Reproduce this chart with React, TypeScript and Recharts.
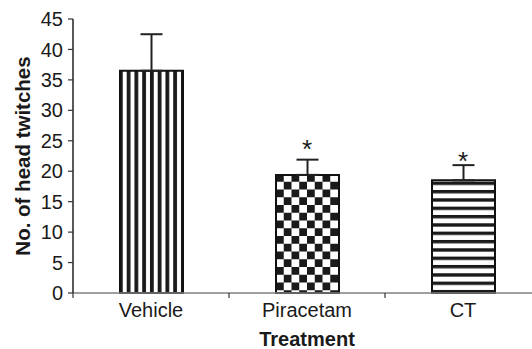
import React from "react";
import { BarChart, Bar, XAxis, YAxis, ErrorBar, ReferenceDot, Label } from "recharts";

const CATEGORIES = ["Vehicle", "Piracetam", "CT"];
const MEANS = [36.5, 19.4, 18.5];
const ERRORS = [6.0, 2.5, 2.5];
const STARS = ["", "*", "*"];
const STAR_Y = [0, 24.6, 22.6];
const Y_TICKS = [0, 5, 10, 15, 20, 25, 30, 35, 40, 45];
const PATTERNS = ["url(#vstripe)", "url(#checker)", "url(#hstripe)"];

const data = CATEGORIES.map((name, i) => ({
  name,
  value: MEANS[i],
  err: [0, ERRORS[i]],
  fill: PATTERNS[i],
}));

const FONT = "Arial, 'Liberation Sans', sans-serif";
const BAND = 468 / CATEGORIES.length;

const XTick = ({ x, y, payload, index }: any) => {
  const axisY = y - 10;
  return (
    <g>
      <line x1={x - BAND / 2} x2={x - BAND / 2} y1={axisY} y2={axisY + 5} stroke="#333" strokeWidth={1.2} />
      {index === CATEGORIES.length - 1 && (
        <line x1={x + BAND / 2} x2={x + BAND / 2} y1={axisY} y2={axisY + 5} stroke="#333" strokeWidth={1.2} />
      )}
      <text x={x} y={y} dy="0.71em" textAnchor="middle" fontSize={20} fontFamily={FONT} fill="#1a1a1a">
        {payload.value}
      </text>
    </g>
  );
};

export default function App() {
  return (
    <div style={{ position: "absolute", left: 0, top: 0, width: 532, height: 349, overflow: "hidden", background: "#fff" }}>
      <BarChart width={545} height={349} data={data} margin={{ top: 19, right: 4, left: 0, bottom: 0 }}>
        <defs>
          <pattern id="vstripe" patternUnits="userSpaceOnUse" x={2.7} y={0} width={7.75} height={10}>
            <rect x={0} y={0} width={7.75} height={10} fill="#fff" />
            <rect x={0} y={0} width={3.8} height={10} fill="#1a1a1a" />
          </pattern>
          <pattern id="checker" patternUnits="userSpaceOnUse" x={276} y={174} width={15.5} height={15.5}>
            <rect x={0} y={0} width={15.5} height={15.5} fill="#fff" />
            <rect x={0} y={0} width={7.75} height={7.75} fill="#1a1a1a" />
            <rect x={7.75} y={7.75} width={7.75} height={7.75} fill="#1a1a1a" />
          </pattern>
          <pattern id="hstripe" patternUnits="userSpaceOnUse" x={0} y={6.7} width={10} height={8.33}>
            <rect x={0} y={0} width={10} height={8.33} fill="#fff" />
            <rect x={0} y={0} width={10} height={3.4} fill="#1a1a1a" />
          </pattern>
        </defs>
        <XAxis
          dataKey="name"
          height={56}
          tickLine={false}
          tickSize={5}
          tickMargin={5}
          axisLine={{ stroke: "#808080", strokeWidth: 1.5 }}
          tick={<XTick />}
          interval={0}
        >
          <Label
            content={({ viewBox }: any) => (
              <text
                x={viewBox.x + viewBox.width / 2}
                y={viewBox.y + 53}
                textAnchor="middle"
                fontSize={20}
                fontWeight="bold"
                fontFamily={FONT}
                fill="#1a1a1a"
              >
                Treatment
              </text>
            )}
          />
        </XAxis>
        <YAxis
          width={73}
          domain={[0, 45]}
          ticks={Y_TICKS}
          interval={0}
          tickSize={5}
          tickMargin={5}
          axisLine={{ stroke: "#222", strokeWidth: 1.5 }}
          tickLine={{ stroke: "#333", strokeWidth: 1.2 }}
          tick={{ fontSize: 20, fontFamily: FONT, fill: "#1a1a1a" }}
        >
          <Label
            content={({ viewBox }: any) => (
              <text
                x={22.5}
                y={viewBox.y + viewBox.height / 2}
                transform={`rotate(-90 22.5 ${viewBox.y + viewBox.height / 2})`}
                textAnchor="middle"
                dominantBaseline="central"
                fontSize={20.5}
                fontWeight="bold"
                fontFamily={FONT}
                fill="#1a1a1a"
              >
                No. of head twitches
              </text>
            )}
          />
        </YAxis>
        <Bar dataKey="value" barSize={63} stroke="#111" strokeWidth={2} isAnimationActive={false}>
          <ErrorBar dataKey="err" direction="y" width={11} stroke="#222" strokeWidth={2} isAnimationActive={false} />
        </Bar>
        {CATEGORIES.map((c, i) =>
          STARS[i] ? (
            <ReferenceDot
              key={c}
              x={c}
              y={STAR_Y[i]}
              r={0}
              fill="none"
              stroke="none"
              label={({ viewBox }: any) => (
                <text
                  x={viewBox.x + viewBox.width / 2}
                  y={viewBox.y + viewBox.height / 2 + 15}
                  textAnchor="middle"
                  fontSize={26}
                  fontFamily={FONT}
                  fill="#1a1a1a"
                >
                  {STARS[i]}
                </text>
              )}
            />
          ) : null
        )}
      </BarChart>
    </div>
  );
}
